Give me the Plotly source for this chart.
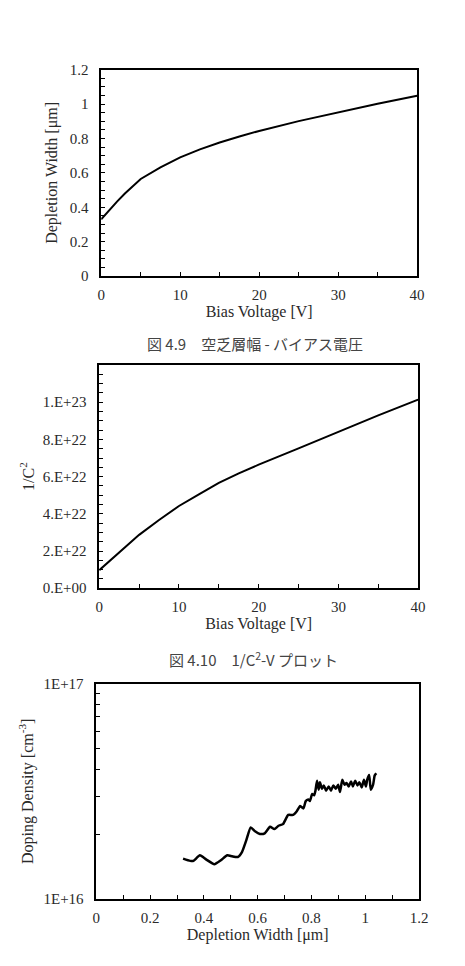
import plotly.graph_objects as go

# ---- Data ----
bias_v = [0, 1, 2, 3, 4, 5, 7.5, 10, 12.5, 15, 17.5, 20, 25, 30, 35, 40]
depletion_w = [0.33, 0.383, 0.433, 0.48, 0.524, 0.565, 0.632, 0.69, 0.737, 0.777, 0.812, 0.844, 0.901, 0.952, 1.002, 1.048]

inv_c2 = [9.7e21, 1.34e22, 1.72e22, 2.1e22, 2.48e22, 2.87e22, 3.67e22, 4.42e22, 5.05e22, 5.66e22, 6.17e22, 6.64e22, 7.52e22, 8.41e22, 9.29e22, 1.014e23]

prof_w = [0.3225, 0.349, 0.361, 0.385, 0.409, 0.439, 0.463, 0.487, 0.505, 0.526, 0.5415, 0.557,
          0.574, 0.590, 0.608, 0.626, 0.646, 0.662, 0.6775, 0.694, 0.7136, 0.7316, 0.746, 0.758,
          0.770, 0.7786, 0.788, 0.794, 0.8026, 0.810, 0.8147, 0.8207, 0.8267, 0.8315, 0.8387,
          0.846, 0.8544, 0.864, 0.8725, 0.881, 0.8905, 0.899, 0.906, 0.9146, 0.923, 0.930,
          0.9386, 0.947, 0.954, 0.9627, 0.971, 0.978, 0.9868, 0.995, 1.0024, 1.007, 1.0144,
          1.0205, 1.029, 1.035, 1.041]
doping = [1.540e16, 1.503e16, 1.503e16, 1.595e16, 1.524e16, 1.451e16, 1.513e16, 1.595e16, 1.578e16,
          1.567e16, 1.652e16, 1.867e16, 2.149e16, 2.061e16, 2.004e16, 2.018e16, 2.165e16, 2.112e16,
          2.188e16, 2.227e16, 2.456e16, 2.456e16, 2.562e16, 2.701e16, 2.634e16, 2.847e16, 2.897e16,
          2.847e16, 3.074e16, 3.031e16, 3.184e16, 3.538e16, 3.218e16, 3.488e16, 3.252e16, 3.368e16,
          3.184e16, 3.333e16, 3.184e16, 3.368e16, 3.252e16, 3.392e16, 3.140e16, 3.576e16, 3.392e16,
          3.452e16, 3.333e16, 3.513e16, 3.333e16, 3.538e16, 3.368e16, 3.488e16, 3.298e16, 3.576e16,
          3.333e16, 3.576e16, 3.769e16, 3.218e16, 3.392e16, 3.743e16, 3.835e16]

w_ticks = [0, 0.2, 0.4, 0.6, 0.8, 1.0, 1.2]
w_ticktext = ["0", "0.2", "0.4", "0.6", "0.8", "1", "1.2"]
v_ticks = [0, 10, 20, 30, 40]
c2_ticks = [0, 2e22, 4e22, 6e22, 8e22, 1e23]
c2_ticktext = ["0.E+00", "2.E+22", "4.E+22", "6.E+22", "8.E+22", "1.E+23"]
n_ticks = [1e16, 1e17]
n_ticktext = ["1E+16", "1E+17"]
n_minor = [2e16, 3e16, 4e16, 5e16, 6e16, 7e16, 8e16, 9e16]

captions = ["図 4.9　空乏層幅 - バイアス電圧", "図 4.10　1/C<sup>2</sup>-V プロット"]

W, H = 465, 966
SERIF = "Liberation Serif"
TXT = "#2a2a2a"

fig = go.Figure()
fig.add_trace(go.Scatter(x=bias_v, y=depletion_w, mode="lines", line=dict(color="black", width=2),
                         xaxis="x", yaxis="y", showlegend=False))
fig.add_trace(go.Scatter(x=bias_v, y=inv_c2, mode="lines", line=dict(color="black", width=2),
                         xaxis="x2", yaxis="y2", showlegend=False))
fig.add_trace(go.Scatter(x=prof_w, y=doping, mode="lines",
                         line=dict(color="black", width=2.5, shape="spline", smoothing=0.5),
                         xaxis="x3", yaxis="y3", showlegend=False))

def px_dom_x(l, r):
    return [l / W, r / W]

def px_dom_y(top, bottom):
    return [1 - bottom / H, 1 - top / H]

def axis_common(standoff):
    return dict(showline=True, linecolor="black", linewidth=1.5, mirror=True,
                showgrid=False, zeroline=False, ticks="inside", ticklen=4,
                tickcolor="black", tickwidth=1, ticklabelstandoff=standoff,
                tickfont=dict(family=SERIF, size=15, color=TXT))

title_font = dict(family=SERIF, size=16, color=TXT)

fig.update_layout(
    width=W, height=H, margin=dict(l=0, r=0, t=0, b=0),
    paper_bgcolor="white", plot_bgcolor="white",
    xaxis=dict(domain=px_dom_x(100, 425), anchor="y", range=[0, 40], tickmode="array",
               tickvals=v_ticks, minor=dict(ticks="inside", ticklen=4, dtick=5, tickcolor="black"),
               title=dict(text="Bias Voltage [V]", font=title_font, standoff=4), **axis_common(4)),
    yaxis=dict(domain=px_dom_y(62.7, 272.7), anchor="x", range=[0, 1.2], tickmode="array",
               tickvals=w_ticks, ticktext=w_ticktext,
               minor=dict(ticks="inside", ticklen=4, dtick=0.05, tickcolor="black"),
               title=dict(text="Depletion Width [μm]", font=title_font, standoff=8), **axis_common(8)),
    xaxis2=dict(domain=px_dom_x(98, 426), anchor="y2", range=[0, 40], tickmode="array",
                tickvals=v_ticks, minor=dict(ticks="inside", ticklen=4, dtick=5, tickcolor="black"),
                title=dict(text="Bias Voltage [V]", font=title_font, standoff=4), **axis_common(4)),
    yaxis2=dict(domain=px_dom_y(363, 590), anchor="x2", range=[0, 1.2e23], tickmode="array",
                tickvals=c2_ticks, ticktext=c2_ticktext,
                minor=dict(ticks="inside", ticklen=4, dtick=5e21, tickcolor="black"),
                title=dict(text="1/C<sup>2</sup>", font=title_font, standoff=4), **axis_common(8)),
    xaxis3=dict(domain=px_dom_x(95, 427), anchor="y3", range=[0, 1.2], tickmode="array",
                tickvals=w_ticks, ticktext=w_ticktext,
                minor=dict(ticks="inside", ticklen=4, dtick=0.1, tickcolor="black"),
                title=dict(text="Depletion Width [μm]", font=title_font, standoff=4), **axis_common(4)),
    yaxis3=dict(domain=px_dom_y(687, 906), anchor="x3", type="log", range=[16, 17], tickmode="array",
                tickvals=n_ticks, ticktext=n_ticktext,
                minor=dict(ticks="inside", ticklen=4, tickmode="array", tickvals=n_minor, tickcolor="black"),
                title=dict(text="Doping Density [cm<sup>-3</sup>]", font=title_font, standoff=6), **axis_common(8)),
)

cap_font = dict(family="Noto Sans CJK JP", size=15, color="#444")
fig.add_annotation(text=captions[0], x=258 / W, y=1 - 341 / H, xref="paper", yref="paper",
                   showarrow=False, font=cap_font, xanchor="center", yanchor="middle")
fig.add_annotation(text=captions[1], x=257 / W, y=1 - 662 / H, xref="paper", yref="paper",
                   showarrow=False, font=cap_font, xanchor="center", yanchor="middle")

fig.write_html("out.html")
